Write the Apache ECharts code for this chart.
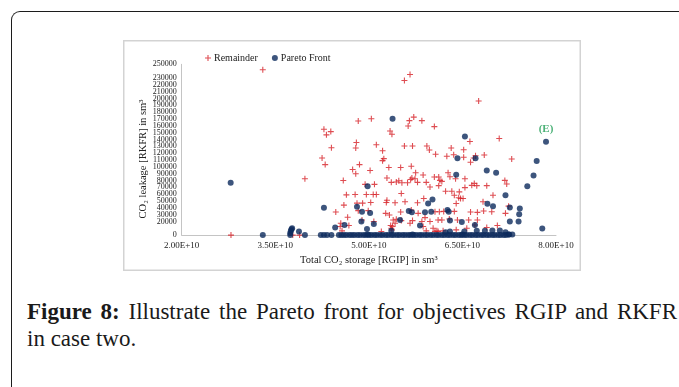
<!DOCTYPE html>
<html>
<head>
<meta charset="utf-8">
<script src="https://cdn.jsdelivr.net/npm/echarts@6/dist/echarts.min.js"></script>
<style>
  html, body { margin: 0; padding: 0; background: #fff; width: 679px; height: 387px; overflow: hidden; }
  .frame { position: absolute; left: 11px; top: 11px; width: 720px; height: 420px;
           border-top: 1.6px solid #1c1c1c; border-left: 1.6px solid #1c1c1c;
           border-top-left-radius: 9px; box-sizing: border-box; }
  #chart { position: absolute; left: 123px; top: 40px; width: 458px; height: 231px; }
  .caption { position: absolute; left: 27px; top: 298px; width: 650px;
             font-family: "Liberation Serif", serif; font-size: 23px; line-height: 27px; color: #1a1a1a; }
  .caption .l1 { text-align: justify; text-align-last: justify; white-space: nowrap; }
  .caption b { font-weight: bold; }
</style>
</head>
<body>
<div class="frame"></div>
<div id="chart"></div>
<div class="caption">
  <div class="l1"><b>Figure 8:</b> Illustrate the Pareto front for objectives RGIP and RKFR</div>
  <div>in case two.</div>
</div>
<script>
// Axis ranges and tick labels
const rgipMin = 2e10, rgipMax = 8e10, rgipLabelStep = 1.5e10;
const rkfrMin = 0, rkfrMax = 250000, rkfrStep = 10000;

// Remainder solutions: [total CO2 storage RGIP (sm3), CO2 leakage RKFR (sm3)]
const remainder = [
  [3.30e10,242000],[2.79e10,0],[3.78e10,0],[3.89e10,0],[3.975e10,82500],[4.28e10,154900],[4.39e10,151500],
  [4.32e10,146700],[4.40e10,127800],[4.25e10,112900],[4.30e10,103200],[4.59e10,80000],[4.64e10,58900],
  [4.60e10,43900],[4.47e10,33700],[4.66e10,26100],[4.55e10,17400],[4.54e10,12500],[4.68e10,14000],
  [4.57e10,6200],[4.74e10,96000],[4.79e10,89700],[4.80e10,135600],[4.79e10,127400],[4.83e10,166900],
  [4.85e10,103200],[4.81e10,46800],
  [5.57e10,226300],[5.66e10,235000],[6.76e10,196400],[5.04e10,170400],[5.34e10,152400],[5.37e10,147700],
  [5.63e10,159700],[5.65e10,167500],[5.72e10,172700],[5.85e10,167500],[6.05e10,158800],[5.12e10,132200],
  [5.57e10,130300],[5.70e10,130300],[5.93e10,130300],[5.97e10,124500],[6.07e10,118300],[5.24e10,111900],
  [5.22e10,109000],[6.32e10,127400],[6.25e10,115400],[6.36e10,117700],[6.52e10,124900],[6.62e10,137100],
  [6.52e10,113900],[6.68e10,112900],[6.85e10,117300],[7.09e10,141400],[7.29e10,111500],[5.02e10,94500],
  [5.32e10,98900],[5.51e10,98900],[5.68e10,100900],[5.75e10,91200],[5.87e10,87900],[6.05e10,85000],
  [6.12e10,85000],[6.14e10,80100],[6.27e10,91200],[6.30e10,85400],[6.39e10,82500],[4.94e10,74300],
  [5.09e10,74300],[4.96e10,59400],[5.07e10,59400],[5.12e10,59400],[5.29e10,83500],[5.36e10,77200],
  [5.48e10,79600],[5.53e10,76700],[5.62e10,76700],[5.69e10,83500],[5.78e10,77200],[5.92e10,77200],
  [6.12e10,72400],[5.98e10,70500],[6.23e10,64100],[6.45e10,63300],[6.47e10,53600],[6.44e10,54600],
  [6.37e10,58300],[6.54e10,82500],[6.54e10,69500],[6.69e10,75700],[6.73e10,72400],[6.89e10,72400],
  [6.83e10,48800],[7.18e10,80100],[7.21e10,74800],[6.99e10,58300],[7.24e10,42400],[7.19e10,31800],
  [7.06e10,14000],[4.78e10,59400],[4.90e10,46800],[4.83e10,35800],[5.03e10,47800],[4.99e10,35800],
  [5.28e10,47800],[5.42e10,47300],[5.58e10,48800],[5.78e10,47300],[5.88e10,53600],[5.27e10,31800],
  [5.33e10,29400],[5.51e10,33700],[5.79e10,31800],[6.06e10,34300],[6.13e10,34300],[6.17e10,22200],
  [6.37e10,34700],[6.20e10,34700],[6.63e10,33700],[6.74e10,33300],[6.84e10,35200],[6.97e10,34300],
  [6.74e10,22200],[6.60e10,22200],[6.42e10,22200],[4.89e10,22200],[5.08e10,19800],[5.39e10,22200],
  [5.52e10,21200],[5.70e10,21200],[5.90e10,25600],[5.98e10,19800],[6.11e10,22200],[6.29e10,23600],
  [5.87e10,12600],[5.35e10,14000],[5.37e10,7700],[5.20e10,5300],[6.09e10,6200],[6.57e10,10100],
  [6.89e10,11100],[6.63e10,106700],[6.71e10,116200],[6.17e10,78600],[5.44e10,77700],[5.67e10,81500],
  [5.74e10,82500],[6.33e10,64100],[6.51e10,53600],[6.65e10,72800],[5.52e10,60800],[5.44e10,23200],
  [5.36e10,10100],[5.68e10,36600],[6.40e10,46300],[6.70e10,14900],[6.03e10,10100],[5.92e10,6200],
  [6.19e10,6200],[6.40e10,7700],[5.22e10,123500],[5.29e10,51100],[5.38e10,12500],[5.42e10,17400],
  [5.66e10,17400],[5.85e10,19800],[6.06e10,5300],[6.11e10,5300]
];

// Pareto-front solutions: [RGIP (sm3), RKFR (sm3)]
const paretoFront = [
  [2.785e10,76700],[3.30e10,0],[3.74e10,0],[3.74e10,3000],[3.75e10,6200],[3.76e10,8700],[3.77e10,10000],
  [3.88e10,5300],[3.975e10,0],[4.28e10,40100],[4.46e10,11100],[4.61e10,14900],[4.81e10,41500],
  [7.84e10,136500],[7.69e10,108600],[7.64e10,87300],[7.54e10,71400],[7.78e10,9700],[6.54e10,144300],
  [6.42e10,112400],[6.71e10,112400],[6.89e10,94500],[7.04e10,91200],[6.40e10,88300],[4.98e10,71400],
  [4.89e10,34300],[5.02e10,32300],[4.88e10,19800],[5.08e10,16400],[4.97e10,9100],[5.50e10,22200],
  [5.64e10,35200],[5.69e10,33300],[5.82e10,14000],[5.90e10,33300],[5.95e10,46300],[6.02e10,52100],
  [6.00e10,34300],[6.26e10,36600],[6.28e10,34300],[6.30e10,21300],[6.49e10,19300],[6.70e10,14900],
  [6.90e10,45900],[6.99e10,42400],[7.19e10,58300],[7.26e10,40500],[7.42e10,39100],[7.41e10,30400],
  [7.26e10,19800],[7.40e10,19800],[6.98e10,6800],[7.10e10,6800],[7.19e10,4300],[7.25e10,1000],
  [7.30e10,1000],[6.86e10,6200],[6.53e10,5300],[6.30e10,5300],[6.23e10,4300],[6.73e10,6200],
  [5.36e10,6200],[5.38e10,170400],
  [4.23e10,0],[4.28e10,0],[4.33e10,0],[4.40e10,0],[4.52e10,0],[4.56e10,0],[4.60e10,0],[4.64e10,0],
  [4.69e10,0],[4.73e10,0],[4.77e10,0],[4.82e10,0],[4.86e10,0],[4.91e10,0],[4.95e10,0],[5.00e10,0],
  [5.04e10,0],[5.09e10,0],[5.13e10,0],[5.18e10,0],[5.22e10,0],[5.27e10,0],[5.31e10,0],[5.36e10,0],
  [5.40e10,0],[5.45e10,0],[5.49e10,0],[5.54e10,0],[5.58e10,0],[5.63e10,0],[5.67e10,0],[5.72e10,0],
  [5.76e10,0],[5.81e10,0],[5.85e10,0],[5.90e10,0],[5.94e10,0],[5.99e10,0],[6.03e10,0],[6.08e10,0],
  [6.12e10,0],[6.17e10,0],[6.21e10,0],[6.26e10,0],[6.30e10,0],[6.35e10,0],[6.39e10,0],[6.44e10,0],
  [6.48e10,0],[6.53e10,0],[6.57e10,0],[6.62e10,0],[6.66e10,0],[6.71e10,0],[6.75e10,0],[6.80e10,0],
  [6.84e10,0],[6.89e10,0],[6.93e10,0],[6.98e10,0],[7.02e10,0],[7.07e10,0],[7.11e10,0],[7.16e10,0],
  [7.20e10,0],[7.24e10,1000],[6.50e10,1000],[5.70e10,1000],[4.98e10,1000]
];

// Highlighted extreme solution on the front
const extremePoint = [7.84e10, 136500];
const extremeLabel = '(E)';

const serif = '"Liberation Serif", "Times New Roman", serif';
const red = '#d61f26';
const navy = '#0d2a5c';
const plusPath = 'path://M-0.18,-1H0.18V-0.18H1V0.18H0.18V1H-0.18V0.18H-1V-0.18H-0.18Z';

const chart = echarts.init(document.getElementById('chart'), null, { renderer: 'canvas' });

const paretoData = paretoFront.map(p => {
  if (p[0] === extremePoint[0] && p[1] === extremePoint[1]) {
    return {
      value: p,
      label: {
        show: true, position: 'top', distance: 4, formatter: extremeLabel,
        color: '#1f9e55', fontFamily: serif, fontWeight: 'bold', fontSize: 11
      }
    };
  }
  return p;
});

chart.setOption({
  animation: false,
  textStyle: { fontFamily: serif, color: '#222' },
  legend: {
    left: 77, top: 8, itemWidth: 6, itemHeight: 6, itemGap: 14,
    textStyle: { fontFamily: serif, fontSize: 10, color: '#222', padding: [0, 0, 0, -2] },
    data: [
      { name: 'Remainder', icon: plusPath, itemStyle: { color: red } },
      { name: 'Pareto Front', icon: 'circle', itemStyle: { color: navy } }
    ]
  },
  grid: { left: 58.7, right: 25, top: 24.3, bottom: 34 },
  xAxis: {
    type: 'value', min: rgipMin, max: rgipMax, interval: 5e9,
    splitLine: { show: false },
    axisTick: { show: false },
    axisLine: { show: true, lineStyle: { color: '#c4c4c4', width: 1 } },
    axisLabel: {
      fontFamily: serif, fontSize: 9, color: '#222', margin: 6,
      formatter: v => {
        const k = (v - rgipMin) / rgipLabelStep;
        if (Math.abs(k - Math.round(k)) > 1e-6) return '';
        return (v / 1e10).toFixed(2) + 'E+10';
      }
    },
    name: 'Total CO\u2082 storage [RGIP] in sm\u00b3',
    nameLocation: 'middle', nameGap: 19,
    nameTextStyle: { fontFamily: serif, fontSize: 10.5, color: '#222' }
  },
  yAxis: {
    type: 'value', min: rkfrMin, max: rkfrMax, interval: rkfrStep,
    splitLine: { show: false },
    axisTick: { show: false },
    axisLine: { show: true, lineStyle: { color: '#c4c4c4', width: 1 } },
    axisLabel: {
      fontFamily: serif, fontSize: 8, color: '#222', margin: 5,
      showMaxLabel: true, showMinLabel: true,
      formatter: v => String(Math.round(v))
    }
  },
  graphic: [
    {
      type: 'rect', silent: true, z: -1,
      shape: { x: 0.75, y: 0.75, width: 456.5, height: 229.5 },
      style: { fill: 'none', stroke: '#d3d3d3', lineWidth: 1.5 }
    },
    {
      type: 'text', x: 20, y: 119, rotation: Math.PI / 2,
      style: {
        text: 'CO\u2082 leakage [RKFR] in sm\u00b3', fontFamily: serif, fontSize: 10.5,
        fill: '#222', align: 'center', verticalAlign: 'middle'
      }
    }
  ],
  series: [
    {
      name: 'Remainder', type: 'scatter', symbol: plusPath, symbolSize: 6,
      itemStyle: { color: red }, data: remainder, z: 2
    },
    {
      name: 'Pareto Front', type: 'scatter', symbol: 'circle', symbolSize: 6,
      itemStyle: { color: navy }, data: paretoData, z: 3
    }
  ]
});
</script>
</body>
</html>
